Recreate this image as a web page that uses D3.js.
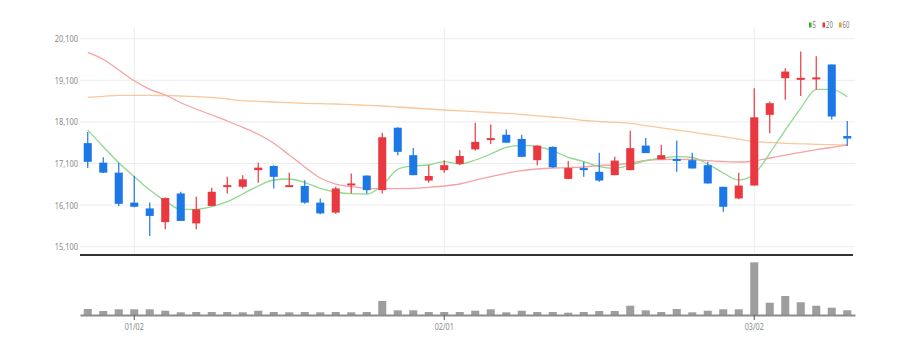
<!DOCTYPE html>
<html>
<head>
<meta charset="utf-8">
<script src="https://cdn.jsdelivr.net/npm/d3@7"></script>
<style>
  body { margin: 0; background: #fff; }
  #chart { width: 910px; height: 354px; }
  text { font-family: "Noto Sans", sans-serif; }
</style>
</head>
<body>
<div id="chart"></div>
<script>
// trading days (2022-12-27 .. 2023-03-10)
const dates = ["12/27","12/28","12/29","01/02","01/03","01/04","01/05","01/06","01/09","01/10",
  "01/11","01/12","01/13","01/16","01/17","01/18","01/19","01/20","01/25","01/26",
  "01/27","01/30","01/31","02/01","02/02","02/03","02/06","02/07","02/08","02/09",
  "02/10","02/13","02/14","02/15","02/16","02/17","02/20","02/21","02/22","02/23",
  "02/24","02/27","02/28","03/02","03/03","03/06","03/07","03/08","03/09","03/10"];

const open  = [17590,17120,16880,16160,16020,15690,16380,15660,16080,16540,
  16540,16940,17040,16540,16560,16160,15920,16580,16810,16460,
  17960,17300,16690,16940,17090,17440,17670,17790,17690,17180,
  17500,16730,16990,16900,16820,16940,17530,17200,17210,17180,
  17060,16540,16260,16570,18270,19150,19110,19140,19480,17760];
const high  = [17860,17250,17120,16800,16160,16280,16420,16300,16520,16780,
  16820,17120,17060,16880,16700,16260,16540,16860,16810,17840,
  17970,17470,17060,17180,17420,18080,18040,17920,17790,17540,
  17510,17160,17140,17360,17260,17890,17710,17550,17650,17360,
  17140,16540,16880,18910,18590,19390,19790,19680,19480,18120];
const low   = [16990,16870,16080,16050,15360,15520,15720,15520,16080,16380,
  16500,16640,16500,16540,16130,15880,15890,16380,16380,16380,
  17300,16820,16640,16880,17060,17410,17570,17600,17250,17060,
  17000,16720,16780,16660,16820,16940,17350,17200,16900,16980,
  16620,15940,16240,16570,17830,18630,18720,18880,18160,17520];
const close = [17140,16880,16130,16060,15840,16270,15720,16000,16420,16580,
  16720,17000,16780,16580,16160,15900,16500,16620,16460,17730,
  17380,16820,16800,17060,17280,17620,17710,17600,17260,17530,
  17010,16990,16940,16690,17170,17470,17350,17300,17160,16980,
  16620,16060,16570,18210,18550,19310,19160,19170,18230,17700];

const volume = [600000,400000,570000,570000,570000,430000,270000,300000,300000,300000,
  270000,430000,300000,270000,300000,270000,300000,270000,300000,1400000,
  470000,470000,300000,300000,300000,430000,570000,270000,430000,300000,
  300000,230000,300000,400000,400000,930000,470000,300000,600000,270000,
  430000,570000,570000,5270000,1230000,1900000,1270000,930000,730000,470000];

const ma5  = [17905,17504,17119,16783,16463,16199,15999,15999,16062,16182,
  16367,16559,16703,16727,16643,16504,16415,16374,16367,16571,
  16961,17040,17064,17143,17088,17184,17328,17489,17537,17504,
  17408,17249,17148,17023,16985,17064,17167,17225,17263,17244,
  17088,16872,16703,16848,17345,17905,18427,18884,18884,18706];
const ma20 = [19773,19605,19348,19090,18884,18747,18561,18410,18266,18122,
  17970,17802,17586,17304,17016,16751,16607,16542,16504,16494,
  16494,16504,16528,16559,16607,16703,16783,16864,16927,16968,
  16992,16999,17016,17052,17064,17112,17172,17196,17201,17196,
  17167,17148,17136,17160,17232,17304,17369,17432,17489,17545];
const ma60 = [18691,18715,18739,18739,18739,18732,18723,18708,18691,18650,
  18610,18595,18578,18564,18547,18537,18530,18513,18499,18482,
  18458,18434,18410,18386,18367,18348,18326,18307,18278,18247,
  18218,18187,18134,18110,18088,18066,18013,17958,17905,17852,
  17797,17744,17684,17624,17605,17586,17574,17561,17552,17545];

const yTicks = [15100,16100,17100,18100,19100,20100];
const xTickLabels = ["01/02","02/01","03/02"];
const legendLabels = ["5","20","60"];

const width = 910, height = 354;
const left = 80, right = 855;
const colUp = "#e9383f", colDown = "#1b78e6";
const maColors = ["#8ed98e", "#f5a2a2", "#f9c89c"];
const legendColors = ["#36b336", "#e6393f", "#f29a3c"];

const svg = d3.select("#chart").append("svg")
  .attr("width", width).attr("height", height);

const x = d3.scaleBand().domain(dates).range([left, right])
  .paddingInner(0.48).paddingOuter(0.24);
const cx = d => x(d) + x.bandwidth() / 2;

const y = d3.scaleLinear().domain([15100, 20100]).range([246.7, 38.7]);
const yVol = d3.scaleLinear().domain([0, 5300000]).range([315, 262]);

// grid
svg.append("g").selectAll("line").data(yTicks).enter().append("line")
  .attr("x1", left).attr("x2", right)
  .attr("y1", d => y(d)).attr("y2", d => y(d))
  .attr("stroke", "#ececec").attr("stroke-width", 1);

svg.append("g").selectAll("line").data(xTickLabels).enter().append("line")
  .attr("x1", d => cx(d)).attr("x2", d => cx(d))
  .attr("y1", 28).attr("y2", 255)
  .attr("stroke", "#ececec").attr("stroke-width", 1);

// y labels
const yAxis = svg.append("g")
  .attr("transform", `translate(${left - 2},0)`)
  .call(d3.axisLeft(y).tickValues(yTicks).tickSize(0).tickPadding(0).tickFormat(d3.format(",")));
yAxis.select(".domain").remove();
yAxis.selectAll("text")
  .attr("fill", "#8a8a8a").style("font-size", "9.5px")
  .attr("transform", "scale(0.78,1)");

// moving averages
const series = [ma60, ma20, ma5];
const lineColors = [maColors[2], maColors[1], maColors[0]];
series.forEach((s, k) => {
  svg.append("path")
    .datum(s)
    .attr("fill", "none")
    .attr("stroke", lineColors[k])
    .attr("stroke-width", 1.3)
    .attr("d", d3.line().x((d, i) => cx(dates[i])).y(d => y(d)).curve(d3.curveMonotoneX));
});

// candles
const candles = svg.append("g").selectAll("g").data(dates).enter().append("g");
candles.append("line")
  .attr("x1", d => cx(d)).attr("x2", d => cx(d))
  .attr("y1", (d, i) => y(high[i])).attr("y2", (d, i) => y(low[i]))
  .attr("stroke", (d, i) => close[i] >= open[i] ? colUp : colDown)
  .attr("stroke-width", 1.2);
candles.append("rect")
  .attr("x", d => x(d))
  .attr("width", x.bandwidth())
  .attr("y", (d, i) => y(Math.max(open[i], close[i])))
  .attr("height", (d, i) => Math.max(2, Math.abs(y(open[i]) - y(close[i]))))
  .attr("fill", (d, i) => close[i] >= open[i] ? colUp : colDown);

// separator
svg.append("line")
  .attr("x1", left).attr("x2", right - 2)
  .attr("y1", 255).attr("y2", 255)
  .attr("stroke", "#333").attr("stroke-width", 2);

// volume
svg.append("g").selectAll("rect").data(dates).enter().append("rect")
  .attr("x", d => x(d))
  .attr("width", x.bandwidth())
  .attr("y", (d, i) => yVol(volume[i]))
  .attr("height", (d, i) => yVol(0) - yVol(volume[i]))
  .attr("fill", "#9e9e9e");

const xAxis = svg.append("g")
  .attr("transform", `translate(0,315)`)
  .call(d3.axisBottom(x).tickValues(xTickLabels).tickSize(5).tickSizeOuter(0).tickPadding(4));
xAxis.select(".domain").attr("stroke", "#8c8c8c").attr("stroke-width", 2);
xAxis.selectAll(".tick line").attr("stroke", "#555");
xAxis.selectAll("text")
  .attr("fill", "#8a8a8a").style("font-size", "8.5px")
  .attr("transform", "scale(0.85,1)")
  .attr("x", function() { return 0; });
xAxis.selectAll(".tick").each(function() {
  const t = d3.select(this);
  const tr = t.attr("transform");
  const px = +tr.match(/translate\(([^,]+)/)[1];
  t.attr("transform", `translate(${px},0)`);
});

// legend
const legend = svg.append("g").attr("transform", "translate(809,21)");
const legX = [0, 13.5, 30];
legendLabels.forEach((lab, k) => {
  legend.append("rect")
    .attr("x", legX[k]).attr("y", 1.5)
    .attr("width", 2.6).attr("height", 5)
    .attr("fill", legendColors[k]);
  legend.append("text")
    .attr("transform", `translate(${legX[k] + 3.5},7) scale(0.7,1)`)
    .attr("fill", "#777")
    .style("font-size", "8.5px")
    .text(lab);
});
</script>
</body>
</html>
